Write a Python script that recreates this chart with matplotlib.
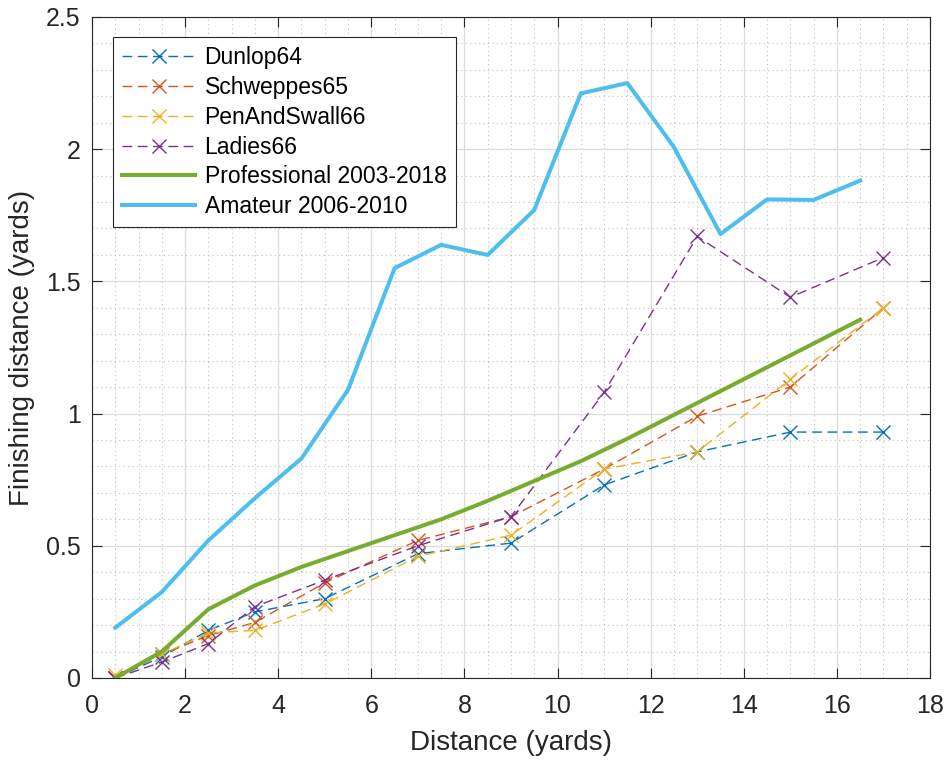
import numpy as np
import matplotlib
matplotlib.use("Agg")
import matplotlib.pyplot as plt
from matplotlib.ticker import MultipleLocator

plt.rcParams['font.family'] = ['Liberation Sans', 'DejaVu Sans']

# distancias de los ensayos historicos
x_hist = [0.5, 1.5, 2.5, 3.5, 5, 7, 9, 11, 13, 15, 17]
dunlop64 = [0.0, 0.08, 0.18, 0.25, 0.30, 0.47, 0.51, 0.73, 0.855, 0.93, 0.93]
schweppes65 = [0.0, 0.09, 0.16, 0.21, 0.36, 0.52, 0.61, 0.79, 0.99, 1.10, 1.40]
penandswall66 = [0.01, 0.09, 0.17, 0.18, 0.28, 0.46, 0.54, 0.79, 0.855, 1.13, 1.40]
ladies66 = [0.0, 0.06, 0.13, 0.27, 0.37, 0.50, 0.61, 1.08, 1.67, 1.44, 1.59]

# medias por tramo de una yarda
x_tramo = [0.5, 1.5, 2.5, 3.5, 4.5, 5.5, 6.5, 7.5, 8.5, 9.5, 10.5, 11.5, 12.5, 13.5, 14.5, 15.5, 16.5]
profesional = [0.0, 0.10, 0.26, 0.35, 0.42, 0.48, 0.54, 0.60, 0.67, 0.745, 0.82, 0.905, 0.995, 1.085, 1.175, 1.265, 1.355]
amateur = [0.19, 0.325, 0.52, 0.68, 0.83, 1.09, 1.55, 1.638, 1.60, 1.77, 2.211, 2.25, 2.008, 1.679, 1.81, 1.808, 1.881]

colores = ['#0072BD', '#D95319', '#EDB120', '#7E2F8E', '#77AC30', '#4DBEEE']

fig = plt.figure(figsize=(9.48, 7.64), dpi=100)
ax = fig.add_axes([0.097, 0.1126, 0.884, 0.8652])

series = [(dunlop64, 'Dunlop64'), (schweppes65, 'Schweppes65'),
          (penandswall66, 'PenAndSwall66'), (ladies66, 'Ladies66')]
for (y, nombre), c in zip(series, colores[:4]):
    ax.plot(x_hist, y, color=c, linestyle=(0, (7, 4)), linewidth=1.0,
            marker='x', markersize=10, markeredgewidth=1.0, label=nombre)

ax.plot(x_tramo, profesional, color=colores[4], linewidth=2.9, label='Professional 2003-2018')
ax.plot(x_tramo, amateur, color=colores[5], linewidth=2.9, label='Amateur 2006-2010')

ax.set_xlim(0, 18)
ax.set_ylim(0, 2.5)
ax.xaxis.set_major_locator(MultipleLocator(2))
ax.xaxis.set_minor_locator(MultipleLocator(0.5))
ax.yaxis.set_major_locator(MultipleLocator(0.5))
ax.yaxis.set_minor_locator(MultipleLocator(0.1))
ax.set_yticks([0, 0.5, 1, 1.5, 2, 2.5])
ax.set_yticklabels(['0', '0.5', '1', '1.5', '2', '2.5'])

ax.grid(which='major', color='#dcdcdc', linewidth=0.9)
ax.grid(which='minor', color='#c0c0c0', linestyle=(0, (1, 3)), linewidth=0.8)
ax.set_axisbelow(True)
ax.tick_params(which='both', direction='in', top=True, right=True, labelsize=18,
               colors='#262626')
ax.tick_params(axis='x', pad=11.5)
ax.tick_params(axis='y', pad=8)
ax.tick_params(which='major', length=7)
ax.tick_params(which='minor', length=0)
for s in ax.spines.values():
    s.set_color('#262626')
    s.set_linewidth(0.8)

ax.set_xlabel('Distance (yards)', fontsize=20, color='#262626', labelpad=9)
ax.set_ylabel('Finishing distance (yards)', fontsize=20, color='#262626', labelpad=8)

leg = ax.legend(loc='upper left', bbox_to_anchor=(0.025, 0.97), borderaxespad=0,
                fontsize=16.5, frameon=True, fancybox=False, edgecolor='#262626',
                framealpha=1, handlelength=3.2, handletextpad=0.4, borderpad=0.4,
                labelspacing=0.3)
leg.get_frame().set_linewidth(0.8)

fig.savefig('out.png', dpi=100)
